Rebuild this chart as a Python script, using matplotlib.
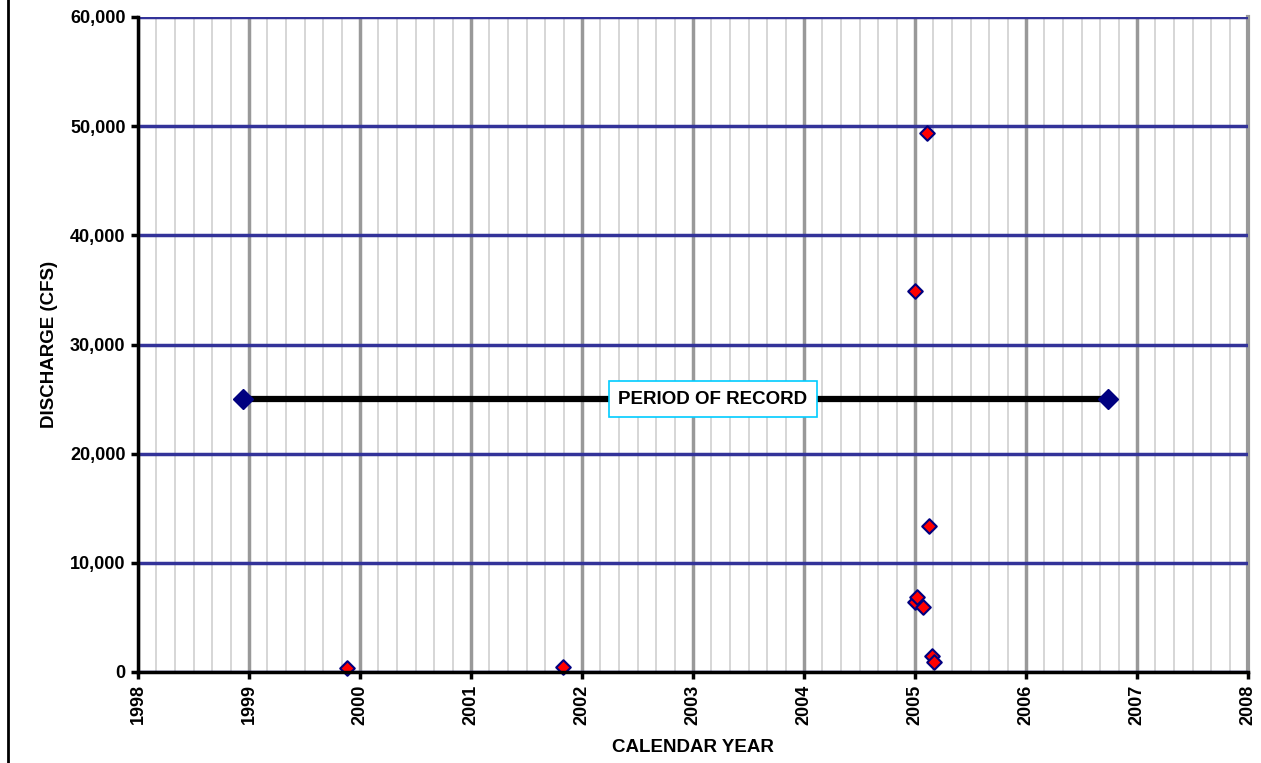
import matplotlib.pyplot as plt
import numpy as np
from matplotlib.ticker import MultipleLocator, FuncFormatter

plt.rcParams['font.family'] = ['Liberation Sans', 'DejaVu Sans']
plt.rcParams['font.weight'] = 'bold'

# measured discharges (decimal year, cfs)
years = [1999.88, 2001.83, 2005.00, 2005.02, 2005.07, 2005.00, 2005.11, 2005.13, 2005.15, 2005.17]
discharge = [400, 450, 6450, 6900, 5950, 34900, 49400, 13350, 1500, 950]

# period of record
record_years = [1998.95, 2006.74]
record_level = [25000, 25000]

fig = plt.figure(figsize=(12.61, 7.63), dpi=100)
ax = fig.add_axes([138 / 1261, 91 / 763, 1110 / 1261, 655 / 763])

ax.set_xlim(1998, 2008)
ax.set_ylim(0, 60000)

ax.xaxis.set_major_locator(MultipleLocator(1))
ax.xaxis.set_minor_locator(MultipleLocator(1 / 6))
ax.yaxis.set_major_locator(MultipleLocator(10000))
ax.yaxis.set_major_formatter(FuncFormatter(lambda v, p: f"{int(v):,}"))
ax.xaxis.set_major_formatter(FuncFormatter(lambda v, p: f"{int(round(v))}"))

ax.grid(which='minor', axis='x', color='#d0d0d0', linewidth=1.2, zorder=0)
ax.grid(which='major', axis='x', color='#999999', linewidth=2.5, zorder=0)
ax.grid(which='major', axis='y', color='#333399', linewidth=2.5, zorder=0)
# right edge gridline at 2008
ax.axvline(2008, color='#999999', linewidth=3, zorder=0, clip_on=False)

for s in ['top', 'right']:
    ax.spines[s].set_visible(False)
for s in ['left', 'bottom']:
    ax.spines[s].set_linewidth(2.5)
    ax.spines[s].set_zorder(5)

ax.tick_params(which='major', direction='out', length=5, width=2.5, labelsize=13, pad=4)
ax.tick_params(which='minor', length=0)
plt.setp(ax.get_xticklabels(), rotation=90, fontweight='bold')
plt.setp(ax.get_yticklabels(), fontweight='bold')

ax.plot(record_years, record_level, color='black', linewidth=4.5, zorder=3,
        marker='D', markersize=10, markerfacecolor='#000080', markeredgecolor='#000080')
ax.scatter(years, discharge, marker='D', s=55, facecolor='red', edgecolor='#000080',
           linewidth=1.5, zorder=4, clip_on=False)

ax.text(2003.18, 25000, "PERIOD OF RECORD", ha='center', va='center', fontsize=13.5,
        fontweight='bold', zorder=6,
        bbox=dict(boxstyle='square,pad=0.5', facecolor='white', edgecolor='#00ccff', linewidth=1.2))

ax.set_xlabel("CALENDAR YEAR", fontsize=13.5, fontweight='bold', labelpad=10)
ax.set_ylabel("DISCHARGE (CFS)", fontsize=13.5, fontweight='bold', labelpad=9)

fig.add_artist(plt.Line2D([8 / 1261, 8 / 1261], [0, 1], transform=fig.transFigure,
                          color='black', linewidth=2))

fig.savefig("out.png", dpi=100)
